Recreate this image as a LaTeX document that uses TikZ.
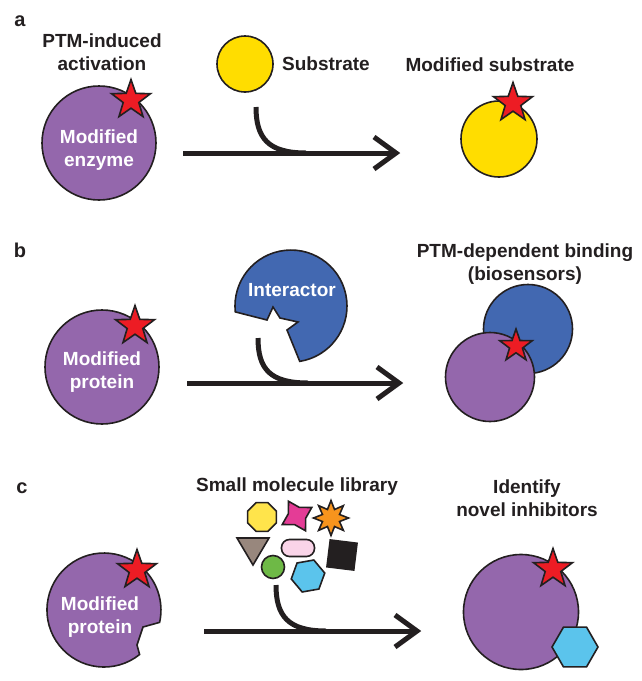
\documentclass[tikz,border=0pt]{standalone}
\usepackage{fontspec}
\setmainfont{Liberation Sans}
\usetikzlibrary{shapes.geometric,calc}
\definecolor{ink}{RGB}{35,31,32}
\definecolor{purp}{RGB}{148,103,172}
\definecolor{yel}{RGB}{255,221,0}
\definecolor{ptmred}{RGB}{237,28,36}
\definecolor{intblue}{RGB}{66,104,177}
\definecolor{hexblue}{RGB}{91,196,236}
\definecolor{octyel}{RGB}{255,228,75}
\definecolor{magen}{RGB}{228,60,150}
\definecolor{orng}{RGB}{247,148,29}
\definecolor{taupe}{RGB}{152,135,125}
\definecolor{pillpink}{RGB}{250,212,232}
\definecolor{grn}{RGB}{110,185,70}
\begin{document}
\begin{tikzpicture}[x=1pt,y=-1pt,
  txt/.style={font=\fontsize{19}{23}\selectfont\bfseries, text=ink, align=center, inner sep=0pt},
  wtxt/.style={txt, text=white},
  lbl/.style={font=\fontsize{20}{24}\selectfont\bfseries, text=ink, inner sep=0pt},
  outl/.style={draw=ink, line width=1.6pt},
  circ/.style={circle, outl, inner sep=0pt},
  ptmstar/.style={star, star points=5, star point ratio=2.5, fill=ptmred, outl, inner sep=0pt, minimum size=41pt},
  rxn/.style={draw=ink, line width=5pt},
  tipst/.style={draw=ink, line width=5pt, line join=miter, miter limit=10}]
\path[use as bounding box] (0,0) rectangle (641,681);

% ---------- panel a ----------
\node[lbl] (la) at (20,21) {a};
\node[txt] (ta1) at (102,52) {PTM-induced\\activation};
\node[circ, fill=purp, minimum size=114pt] (enzA) at (99,143) {};
\node[ptmstar] (starA) at (131,100) {};
\node[wtxt] (tA) at (99,150) {Modified\\enzyme};
\node[circ, fill=yel, minimum size=56pt] (subA) at (245,64) {};
\node[txt] (tsub) at (326,64) {Substrate};
\coordinate (a0) at (183,153);
\coordinate (a1) at (396,153);
\coordinate (ac) at (256,107);
\coordinate (am) at (306,153);
\draw[rxn] (a0) -- (a1);
\draw[rxn] (ac) .. controls ($(ac)+(0,31)$) and ($(am)+(-38,0)$) .. (am);
\draw[tipst] ($(a1)+(-22,-16)$) -- (a1) -- ($(a1)+(-22,16)$);
\node[txt] (tms) at (490,65) {Modified substrate};
\node[circ, fill=yel, minimum size=76pt] (subM) at (499,139) {};
\node[ptmstar] (starM) at (513,103) {};

% ---------- panel b ----------
\node[lbl] (lb) at (20,250) {b};
\node[circ, fill=purp, minimum size=114pt] (protB) at (102,367) {};
\node[ptmstar] (starB) at (135,326) {};
\node[wtxt] (tB) at (102,372) {Modified\\protein};
\draw[outl, fill=intblue] (235.3,311.9) arc[start angle=-174, end angle=-441, radius=56pt]
  -- (287,330) -- (298,322) -- (280,318) -- (273,307) -- (267,320) -- cycle;
\node[wtxt] (tI) at (292,290) {Interactor};
\coordinate (b0) at (187,383);
\coordinate (b1) at (399,383);
\coordinate (bc) at (258,338);
\coordinate (bm) at (308,383);
\draw[rxn] (b0) -- (b1);
\draw[rxn] (bc) .. controls ($(bc)+(0,31)$) and ($(bm)+(-38,0)$) .. (bm);
\draw[tipst] ($(b1)+(-22,-16)$) -- (b1) -- ($(b1)+(-22,16)$);
\node[txt] (tpd) at (525,264) {PTM-dependent binding\\(biosensors)};
\node[circ, fill=intblue, minimum size=89pt] (blueR) at (528,329) {};
\node[circ, fill=purp, minimum size=89pt] (purpR) at (490,377) {};
\node[ptmstar, minimum size=34pt] (starR) at (516,346) {};

% ---------- panel c ----------
\node[lbl] (lc) at (22,488) {c};
\draw[outl, fill=purp] (139.6,654.5) arc[start angle=-51.3, end angle=-372.5, radius=57pt]
  -- (143,627) -- (137,645) -- cycle;
\node[ptmstar] (starC) at (137,570) {};
\node[wtxt] (tC) at (100,617) {Modified\\protein};
\node[txt] (tlib) at (297,487) {Small molecule library};
% library
\node[regular polygon, regular polygon sides=8, outl, fill=octyel, minimum size=31pt, inner sep=0pt] (oct) at (262,517) {};
\node[star, star points=4, star point ratio=1.9, outl, fill=magen, minimum size=34pt, inner sep=0pt, rotate=30] (st4) at (297,516) {};
\node[star, star points=8, star point ratio=1.9, outl, fill=orng, minimum size=35pt, inner sep=0pt] (st8) at (331,518) {};
\draw[outl, fill=taupe] (237,538) -- (269,538) -- (253,565) -- cycle;
\node[rectangle, rounded corners=8pt, outl, fill=pillpink, minimum width=33pt, minimum height=17pt, inner sep=0pt] (pill) at (298,548) {};
\node[rectangle, outl, fill=ink, minimum size=27pt, inner sep=0pt, rotate=-7] (sq) at (342,555) {};
\node[circ, fill=grn, minimum size=23pt] (gc) at (273,567) {};
\node[regular polygon, regular polygon sides=6, outl, fill=hexblue, minimum size=34pt, inner sep=0pt, rotate=10] (hexs) at (308,576) {};
\coordinate (c0) at (204,631);
\coordinate (c1) at (417,631);
\coordinate (cc) at (276,585);
\coordinate (cm) at (326,631);
\draw[rxn] (c0) -- (c1);
\draw[rxn] (cc) .. controls ($(cc)+(0,31)$) and ($(cm)+(-38,0)$) .. (cm);
\draw[tipst] ($(c1)+(-22,-16)$) -- (c1) -- ($(c1)+(-22,16)$);
\node[txt] (tid) at (527,498) {Identify\\novel inhibitors};
\node[circ, fill=purp, minimum size=115pt] (purpC) at (521,612) {};
\node[ptmstar] (starC2) at (553,569) {};
\node[regular polygon, regular polygon sides=6, outl, fill=hexblue, minimum size=46pt, inner sep=0pt] (hexC) at (575,647) {};
\end{tikzpicture}
\end{document}
